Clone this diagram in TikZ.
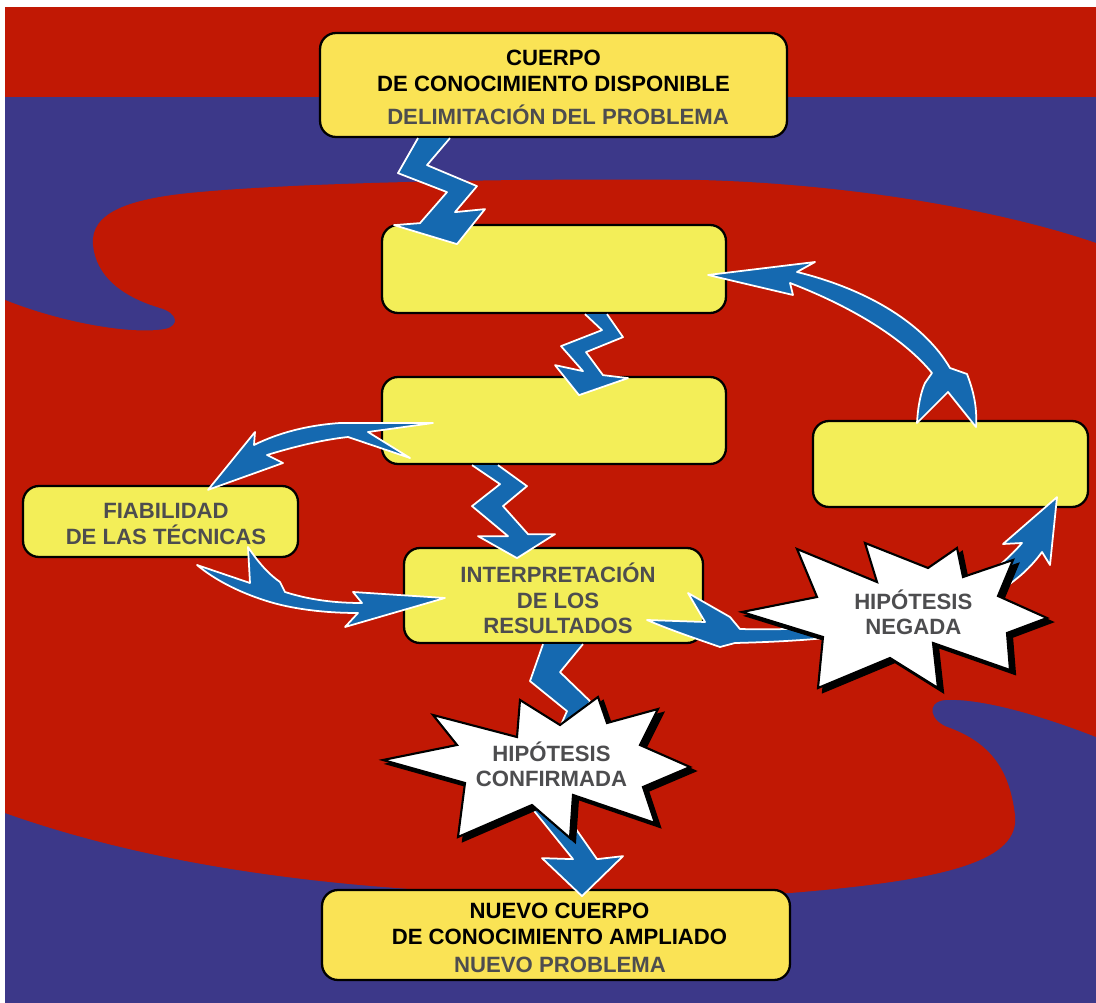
\documentclass[tikz,border=0pt]{standalone}
\usepackage{fontspec}
\setmainfont{Liberation Sans}
\usetikzlibrary{positioning, calc}

\definecolor{fondoRojo}{RGB}{193,24,4}
\definecolor{fondoAzul}{RGB}{60,56,137}
\definecolor{cajaOro}{RGB}{250,227,85}
\definecolor{cajaAmarilla}{RGB}{243,238,88}
\definecolor{flechaAzul}{RGB}{21,105,176}
\definecolor{textoGris}{RGB}{77,77,79}

\begin{document}
\begin{tikzpicture}[x=0.02cm, y=-0.02cm,
    caja/.style={rectangle, rounded corners=0.32cm, draw=black, line width=1.3pt, fill=cajaAmarilla},
    cajaext/.style={caja, fill=cajaOro},
    texto/.style={font=\fontsize{12.6}{14.5}\selectfont\bfseries, align=center, inner sep=0pt},
    rayo/.style={fill=flechaAzul, draw=white, line width=1pt, line join=round}]
    \useasboundingbox (0,0) rectangle (1096,1003);

    % Fondo
    \fill[white] (0,0) rectangle (1096,1003);
    \fill[fondoAzul] (5,7) rectangle (1096,1003);
    \fill[fondoRojo] (5,7) rectangle (1096,97);
    \fill[fondoRojo] (5,300) .. controls (60,322) and (130,335) .. (165,329)
        .. controls (180,326) and (178,313) .. (160,308)
        .. controls (120,296) and (96,275) .. (93,245)
        .. controls (90,212) and (130,198) .. (200,192)
        .. controls (300,183) and (500,178) .. (700,180)
        .. controls (850,184) and (1000,210) .. (1096,243) -- (1096,737)
        .. controls (1040,715) and (980,698) .. (945,700)
        .. controls (925,702) and (930,722) .. (950,728)
        .. controls (995,745) and (1010,775) .. (1015,815)
        .. controls (1020,860) and (950,880) .. (790,893)
        .. controls (550,900) and (250,900) .. (5,813) -- cycle;

    % Cajas
    \node[cajaext, minimum width=9.34cm, minimum height=2.08cm] (cuerpo) at (553.5,85) {};
    \node[caja, minimum width=6.88cm, minimum height=1.76cm] (etapa1) at (554,269) {};
    \node[caja, minimum width=6.88cm, minimum height=1.74cm] (etapa2) at (554,420.5) {};
    \node[caja, minimum width=5.5cm, minimum height=1.72cm] (etapa3) at (950.5,464) {};
    \node[caja, minimum width=5.5cm, minimum height=1.42cm] (fiabilidad) at (160.5,521.5) {};
    \node[caja, minimum width=5.98cm, minimum height=1.9cm] (interpretacion) at (553.5,595.5) {};
    \node[cajaext, minimum width=9.36cm, minimum height=1.8cm] (nuevo) at (556,935) {};

    % Textos de las cajas
    \node[texto] (cuerpoTxt) at (553.5,71) {CUERPO\\DE CONOCIMIENTO DISPONIBLE};
    \node[texto, textoGris, anchor=base] (cuerpoSub) at (558,124.6) {DELIMITACIÓN DEL PROBLEMA};
    \node[texto, textoGris] (fiabTxt) at (166,524) {FIABILIDAD\\DE LAS TÉCNICAS};
    \node[texto, textoGris] (interpTxt) at (558,598.4) {INTERPRETACIÓN\\DE LOS\\RESULTADOS};
    \node[texto] (nuevoTxt) at (559.5,923.7) {NUEVO CUERPO\\DE CONOCIMIENTO AMPLIADO};
    \node[texto, textoGris, anchor=base] (nuevoSub) at (560,972) {NUEVO PROBLEMA};

    % Rayos
    \path[rayo] ($(cuerpo.south)+(-135.5,0)$) -- ++(-20,35) -- ++(49,19) -- ++(-27,31) -- ++(-26,2)
        -- ++(63,19) -- ++(28,-35) -- ++(-30,3) -- ++(22,-26) -- ++(-50,-21) -- ++(23,-27);
    \path[rayo] ($(etapa1.south)+(53,0)$) -- ++(16,23) -- ++(-37,15) -- ++(17,23) -- ++(25,3)
        -- ++(-49,17) -- ++(-24,-30) -- ++(28,6) -- ++(-22,-25) -- ++(41,-16) -- ++(-17,-16);
    \path[rayo] ($(etapa2.south)+(-56,0)$) -- ++(29,21) -- ++(-24,20) -- ++(25,28) -- ++(27,0)
        -- ++(-38,24) -- ++(-39,-22) -- ++(30,0) -- ++(-36,-30) -- ++(28,-22) -- ++(-28,-19);
    \path[rayo] ($(interpretacion.south)+(29.5,0)$) -- ++(-23,28) -- ++(30,29) -- ++(-35,98) -- ++(42,60)
        -- ++(26,-3) -- ++(-41,40) -- ++(-40,-38) -- ++(31,1) -- ++(-46,-57) -- ++(40,-91) -- ++(-37,-30) -- ++(13,-37);

    % Flechas curvas
    \path[rayo] ($(etapa1.east)+(-19,6)$) -- (815,262) -- (797,272)
        .. controls (870,290) and (925,325) .. (950,368) -- (967,374)
        .. controls (975,395) and (977,410) .. (976,427) -- (948,392) -- (917,423)
        .. controls (918,405) and (921,392) .. (925,383) -- (932,373)
        .. controls (905,340) and (855,308) .. (790,283) -- (793,295) -- cycle;
    \path[rayo] ($(fiabilidad.north)+(47.5,5)$) -- (255,432) -- (254,445)
        .. controls (280,432) and (310,425) .. (340,423) -- (433,423) -- (368,432) -- (410,458) -- (348,437)
        .. controls (320,440) and (290,448) .. (267,455) -- (283,463) -- cycle;
    \path[rayo] ($(interpretacion.west)+(42,2.5)$) -- (353,592) -- (362,603)
        .. controls (335,603) and (310,600) .. (285,592) -- (280,582)
        .. controls (270,575) and (260,565) .. (248,547) -- (250,583) -- (197,565)
        .. controls (215,580) and (240,593) .. (270,602)
        .. controls (290,608) and (320,613) .. (358,613) -- (345,627) -- cycle;
    \path[rayo] ($(etapa3.south)+(106.5,-11)$) -- (1050,565) -- (1042,552)
        .. controls (990,625) and (860,640) .. (735,643) -- (720,647)
        .. controls (700,640) and (670,630) .. (647,620) -- (705,622) -- (688,593) -- (730,617) -- (740,629)
        .. controls (850,632) and (960,615) .. (1022,543) -- (1003,544) -- cycle;

    % Estrellas
    \foreach \d/\relleno in {5/black,0/white} {
        \filldraw[fill=\relleno, draw=black, line width=1.2pt, shift={(\d,0.8*\d)}]
            (383,760) -- (457,745) -- (433,715) -- (517,737) -- (520,700) -- (560,725) -- (598,697)
            -- (607,723) -- (658,709) -- (640,745) -- (690,767) -- (643,787) -- (655,823) -- (573,795)
            -- (570,838) -- (532,805) -- (458,837) -- (465,783) -- cycle;
        \filldraw[fill=\relleno, draw=black, line width=1.2pt, shift={(\d,0.8*\d)}]
            (742,612) -- (817,597) -- (797,549) -- (877,582) -- (865,543) -- (928,568) -- (957,548)
            -- (963,577) -- (1013,560) -- (998,596) -- (1047,618) -- (1007,633) -- (1010,670) -- (933,643)
            -- (938,688) -- (890,658) -- (818,688) -- (823,637) -- cycle;
    }
    \node[texto, textoGris] (confirmada) at (551.5,764.3) {HIPÓTESIS\\CONFIRMADA};
    \node[texto, textoGris] (negada) at (913.3,612.4) {HIPÓTESIS\\NEGADA};
\end{tikzpicture}
\end{document}
